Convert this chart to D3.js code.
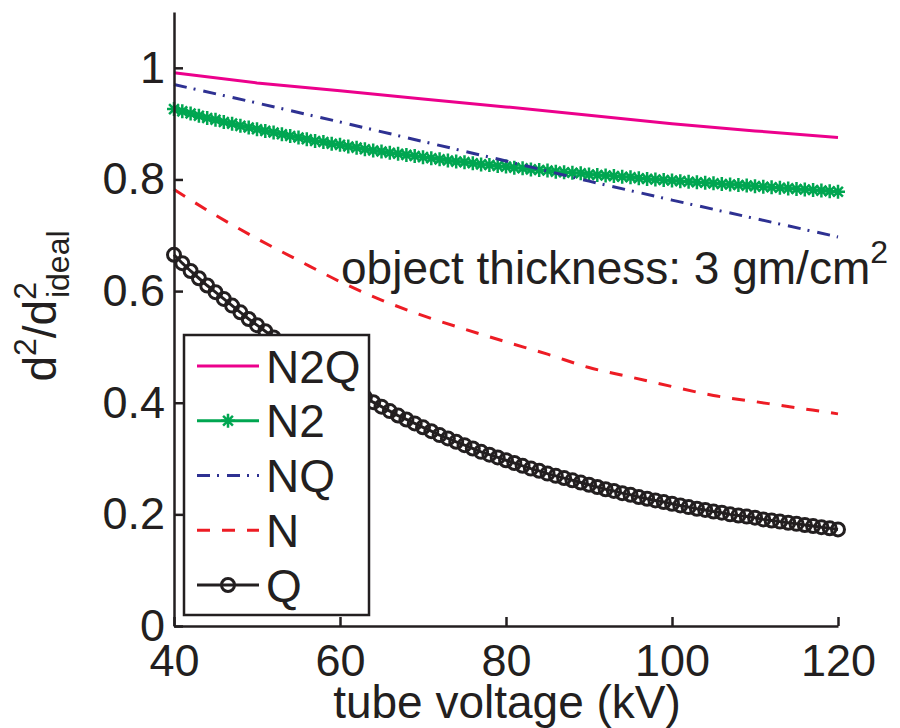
<!DOCTYPE html>
<html>
<head>
<meta charset="utf-8">
<script src="https://cdn.jsdelivr.net/npm/d3@7"></script>
<style>
  html, body { margin: 0; padding: 0; background: #fff; }
  svg { display: block; }
  text { font-family: "Liberation Sans", Arial, Helvetica, sans-serif; fill: #231f20; }
</style>
</head>
<body>
<svg id="chart" width="900" height="728"></svg>
<script>
// ---- data ----
const kvCoarse = [40, 50, 60, 70, 80, 90, 100, 110, 120];
const n2qValues = [0.991, 0.973, 0.959, 0.944, 0.930, 0.915, 0.900, 0.887, 0.875];
const nqValues  = [0.970, 0.937, 0.903, 0.868, 0.833, 0.797, 0.763, 0.730, 0.697];

const kvMid = [40, 45, 50, 55, 60, 65, 70, 75, 80, 85, 90, 95, 100, 105, 110, 115, 120];
const nValues = [0.782, 0.736, 0.694, 0.655, 0.617, 0.584, 0.556, 0.532, 0.509, 0.487,
                 0.463, 0.446, 0.429, 0.413, 0.402, 0.391, 0.380];

const kvFine = [40,41,42,43,44,45,46,47,48,49,50,51,52,53,54,55,56,57,58,59,60,
                61,62,63,64,65,66,67,68,69,70,71,72,73,74,75,76,77,78,79,80,
                81,82,83,84,85,86,87,88,89,90,91,92,93,94,95,96,97,98,99,100,
                101,102,103,104,105,106,107,108,109,110,111,112,113,114,115,116,117,118,119,120];
const n2Values = [0.926,0.922,0.918,0.914,0.910,0.907,0.903,0.900,0.896,0.893,0.890,
                  0.887,0.884,0.881,0.878,0.875,0.872,0.869,0.867,0.864,0.862,
                  0.859,0.857,0.854,0.852,0.850,0.848,0.846,0.844,0.842,0.840,
                  0.838,0.836,0.834,0.832,0.831,0.829,0.827,0.826,0.824,0.823,
                  0.821,0.820,0.818,0.817,0.816,0.814,0.813,0.812,0.811,0.809,
                  0.808,0.807,0.806,0.805,0.804,0.802,0.801,0.800,0.799,0.798,
                  0.797,0.796,0.795,0.794,0.793,0.792,0.791,0.790,0.789,0.788,
                  0.787,0.786,0.785,0.784,0.783,0.782,0.781,0.780,0.779,0.778];
const qValues = [0.665,0.650,0.636,0.623,0.610,0.598,0.586,0.574,0.562,0.550,0.539,
                 0.528,0.517,0.506,0.495,0.485,0.475,0.465,0.455,0.446,0.437,
                 0.428,0.419,0.410,0.401,0.393,0.385,0.377,0.370,0.363,0.356,
                 0.349,0.342,0.336,0.330,0.324,0.318,0.312,0.307,0.302,0.297,
                 0.292,0.287,0.282,0.278,0.273,0.269,0.265,0.261,0.257,0.253,
                 0.249,0.245,0.242,0.238,0.235,0.231,0.228,0.225,0.222,0.219,
                 0.216,0.213,0.210,0.208,0.205,0.203,0.200,0.198,0.196,0.194,
                 0.191,0.189,0.187,0.185,0.183,0.181,0.179,0.177,0.175,0.173];

const xTicks = [40, 60, 80, 100, 120];
const yTicks = [0, 0.2, 0.4, 0.6, 0.8, 1];
const yTickLabels = ["0", "0.2", "0.4", "0.6", "0.8", "1"];

const seriesNames = ["N2Q", "N2", "NQ", "N", "Q"];

// ---- styles ----
const colors = { N2Q: "#ec008c", N2: "#00a651", NQ: "#2e3192", N: "#ed1c24", Q: "#231f20" };
const dashes = { N2Q: null, N2: null, NQ: "13,7,2,8", N: "13,12", Q: null };
const FONT = 45;

const svg = d3.select("#chart");
const x = d3.scaleLinear().domain([40, 120]).range([174, 838]);
const y = d3.scaleLinear().domain([0, 1.1]).range([626, 12]);

const seriesData = {
  N2Q: kvCoarse.map((k, i) => [k, n2qValues[i]]),
  N2:  kvFine.map((k, i) => [k, n2Values[i]]),
  NQ:  kvCoarse.map((k, i) => [k, nqValues[i]]),
  N:   kvMid.map((k, i) => [k, nValues[i]]),
  Q:   kvFine.map((k, i) => [k, qValues[i]])
};

const line = d3.line().x(d => x(d[0])).y(d => y(d[1]));
const smooth = d3.line().x(d => x(d[0])).y(d => y(d[1])).curve(d3.curveMonotoneX);

const drawOrder = ["N2Q", "N2", "NQ", "N", "Q"];

function asterisk(g, cx, cy, r, color) {
  const d = `M${cx - r},${cy}L${cx + r},${cy}M${cx},${cy - r}L${cx},${cy + r}` +
            `M${cx - r * 0.7},${cy - r * 0.7}L${cx + r * 0.7},${cy + r * 0.7}` +
            `M${cx - r * 0.7},${cy + r * 0.7}L${cx + r * 0.7},${cy - r * 0.7}`;
  g.append("path").attr("d", d).attr("stroke", color).attr("stroke-width", 2.5).attr("fill", "none");
}

const plot = svg.append("g");
drawOrder.forEach(name => {
  const data = seriesData[name];
  plot.append("path")
    .datum(data)
    .attr("d", name === "N" ? smooth : line)
    .attr("fill", "none")
    .attr("stroke", colors[name])
    .attr("stroke-width", 3)
    .attr("stroke-dasharray", dashes[name]);
  if (name === "N2") {
    const mg = plot.append("g");
    data.forEach(d => asterisk(mg, x(d[0]), y(d[1]), 7, colors.N2));
  }
  if (name === "Q") {
    plot.append("g").selectAll("circle").data(data).join("circle")
      .attr("cx", d => x(d[0])).attr("cy", d => y(d[1])).attr("r", 6.5)
      .attr("fill", "none").attr("stroke", colors.Q).attr("stroke-width", 3);
  }
});

// ---- axes ----
const yAxis = d3.axisLeft(y).tickValues(yTicks).tickSize(-9).tickSizeOuter(0).tickPadding(9)
  .tickFormat((d, i) => yTickLabels[i]);
const xAxis = d3.axisBottom(x).tickValues(xTicks).tickSize(-9).tickSizeOuter(0).tickPadding(18)
  .tickFormat(d => String(d));

const gy = svg.append("g").attr("transform", "translate(174,0)").call(yAxis);
const gx = svg.append("g").attr("transform", "translate(0,626)").call(xAxis);
[gx, gy].forEach(g => {
  g.select(".domain").attr("stroke", "#231f20").attr("stroke-width", 2.5);
  g.selectAll(".tick line").attr("stroke", "#231f20").attr("stroke-width", 2.5);
  g.selectAll(".tick text").attr("font-size", FONT).attr("fill", "#231f20")
    .attr("font-family", '"Liberation Sans", Arial, sans-serif');
});

// x axis title
svg.append("text").attr("x", 507).attr("y", 718).attr("text-anchor", "middle")
  .attr("font-size", 46).text("tube voltage (kV)");

// y axis title: d^2/d^2_ideal
const yt = svg.append("text").attr("transform", "translate(56,306) rotate(-90)")
  .attr("text-anchor", "middle").attr("font-size", 46);
yt.append("tspan").text("d");
yt.append("tspan").attr("font-size", 32).attr("dy", -20).text("2");
yt.append("tspan").attr("dy", 20).text("/d");
yt.append("tspan").attr("font-size", 32).attr("dy", -20).text("2");
yt.append("tspan").attr("font-size", 32).attr("dx", -16).attr("dy", 33).text("ideal");

// annotation
const ann = svg.append("text").attr("x", 341).attr("y", 284).attr("font-size", 46);
ann.append("tspan").text("object thickness: 3 gm/cm");
ann.append("tspan").attr("font-size", 32).attr("dy", -21).text("2");

// ---- legend ----
const lg = svg.append("g");
lg.append("rect").attr("x", 184).attr("y", 335).attr("width", 185).attr("height", 280)
  .attr("fill", "#fff").attr("stroke", "#231f20").attr("stroke-width", 2.5);
const legendY = d3.scalePoint().domain(seriesNames).range([366, 585]);
seriesNames.forEach(name => {
  const cy = legendY(name);
  lg.append("line").attr("x1", 197).attr("x2", 259).attr("y1", cy).attr("y2", cy)
    .attr("stroke", colors[name]).attr("stroke-width", 3)
    .attr("stroke-dasharray", dashes[name]);
  if (name === "N2") asterisk(lg, 228, cy, 7, colors.N2);
  if (name === "Q") lg.append("circle").attr("cx", 228).attr("cy", cy).attr("r", 6.5)
    .attr("fill", "none").attr("stroke", colors.Q).attr("stroke-width", 3);
  lg.append("text").attr("x", 266).attr("y", cy).attr("dy", "0.36em")
    .attr("font-size", 46).text(name);
});
</script>
</body>
</html>
